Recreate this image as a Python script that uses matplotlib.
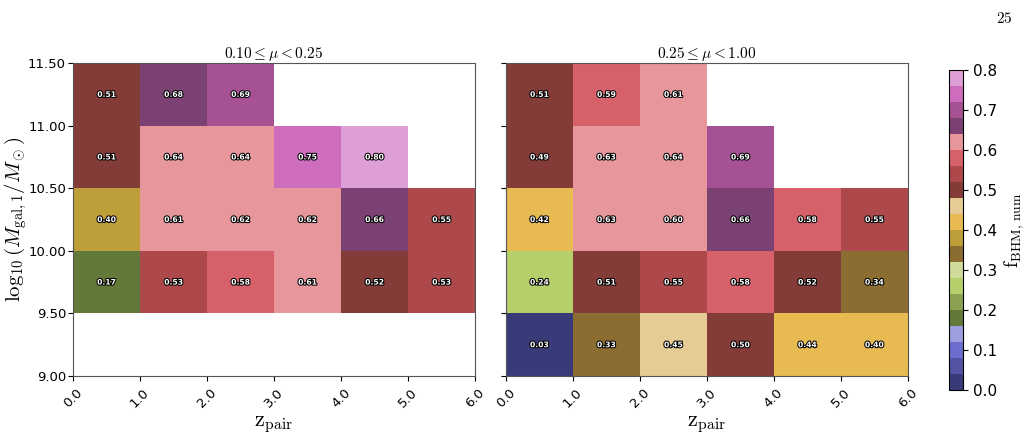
import matplotlib
matplotlib.use('Agg')
import matplotlib.pyplot as plt
import matplotlib.patheffects as pe
import numpy as np

plt.rcParams['mathtext.fontset'] = 'cm'

# bin edges
z_edges = [0.0, 1.0, 2.0, 3.0, 4.0, 5.0, 6.0]
m_edges = [9.0, 9.5, 10.0, 10.5, 11.0, 11.5]

nan = np.nan
# rows: mass bins from 9.0 upwards, columns: z bins
f_low = [
    [nan, nan, nan, nan, nan, nan],
    [0.17, 0.53, 0.58, 0.61, 0.518, 0.53],
    [0.398, 0.61, 0.62, 0.62, 0.66, 0.55],
    [0.51, 0.638, 0.638, 0.75, 0.80, nan],
    [0.51, 0.678, 0.69, nan, nan, nan],
]
f_high = [
    [0.03, 0.33, 0.45, 0.50, 0.438, 0.40],
    [0.242, 0.51, 0.55, 0.58, 0.518, 0.34],
    [0.42, 0.63, 0.601, 0.66, 0.58, 0.55],
    [0.49, 0.63, 0.638, 0.69, nan, nan],
    [0.51, 0.59, 0.61, nan, nan, nan],
]
titles = [r'$0.10 \leq \mu < 0.25$', r'$0.25 \leq \mu < 1.00$']

fig = plt.figure(figsize=(10.28, 4.38), dpi=100)
ax1 = fig.add_axes((0.071, 0.1416, 0.391, 0.7144))
ax2 = fig.add_axes((0.492, 0.1416, 0.391, 0.7144))
cax = fig.add_axes((0.923, 0.1096, 0.0136, 0.7304))

for ax, data, title in zip([ax1, ax2], [f_low, f_high], titles):
    arr = np.ma.masked_invalid(np.array(data))
    mesh = ax.pcolormesh(z_edges, m_edges, arr, cmap='tab20b', vmin=0, vmax=0.8)
    zc = 0.5 * (np.array(z_edges[:-1]) + np.array(z_edges[1:]))
    mc = 0.5 * (np.array(m_edges[:-1]) + np.array(m_edges[1:]))
    for i, m in enumerate(mc):
        for j, z in enumerate(zc):
            v = data[i][j]
            if not np.isnan(v):
                ax.text(z, m, '%.2f' % v, ha='center', va='center', color='white',
                        fontsize=5.5, fontweight='bold',
                        path_effects=[pe.withStroke(linewidth=1.5, foreground='black')])
    ax.set_xlim(0, 6)
    ax.set_ylim(9.0, 11.5)
    ax.set_xticks(z_edges)
    ax.set_xticklabels(['%.1f' % z for z in z_edges], rotation=45, fontsize=9.5)
    ax.set_yticks(m_edges)
    ax.tick_params(axis='y', pad=1.5)
    ax.set_title(title, fontsize=11, pad=3)
    ax.set_xlabel(r'$\mathrm{z_{pair}}$', fontsize=16)
    for s in ax.spines.values():
        s.set_color('#555555')

ax1.set_yticklabels(['%.2f' % m for m in m_edges], fontsize=9.5)
ax2.set_yticklabels([])
ax1.set_ylabel(r'$\log_{10}(M_{\rm gal,1}/M_\odot)$', fontsize=15)
ax1.yaxis.set_label_coords(-0.11, 0.5)

cb = fig.colorbar(mesh, cax=cax, ticks=np.arange(0, 0.81, 0.1))
cb.ax.tick_params(labelsize=11)
cb.set_label(r'$\mathrm{f_{BHM,\,num}}$', fontsize=14)

fig.text(0.985, 0.975, r'$\mathrm{25}$', ha='right', va='top', fontsize=11)

fig.savefig('out.png', dpi=100)
